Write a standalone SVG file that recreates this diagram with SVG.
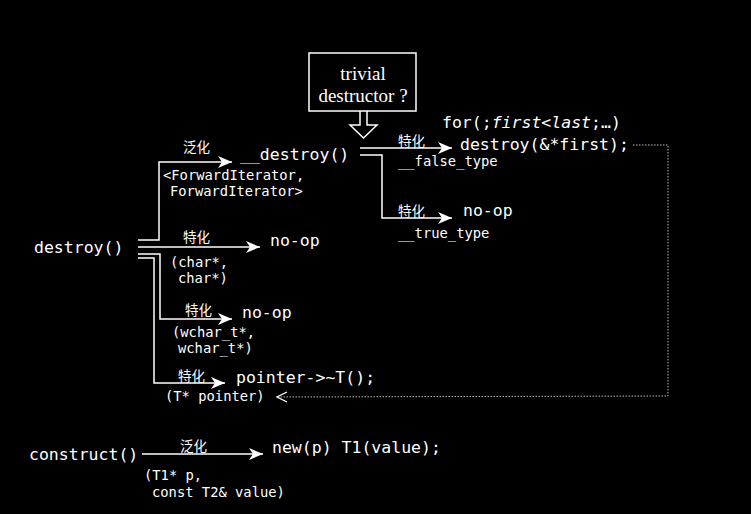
<svg xmlns="http://www.w3.org/2000/svg" width="751" height="514" viewBox="0 0 751 514">
<style>
.m{font-family:"DejaVu Sans Mono","Liberation Mono",monospace;fill:#fff;font-size:16.5px}
.s{font-family:"DejaVu Sans Mono","Liberation Mono",monospace;fill:#fff;font-size:13.8px}
.c{font-family:"Noto Sans CJK SC","Noto Sans",sans-serif;fill:#fff;font-size:13.5px}
.sf{font-family:"Liberation Serif",serif;fill:#fff;font-size:19px}
.ln{fill:none;stroke:#fff;stroke-width:1.5}
.dt{fill:none;stroke:#bbb;stroke-width:1;stroke-dasharray:1.5 1.5}
</style>
<defs>
<marker id="ah" markerUnits="userSpaceOnUse" markerWidth="15" markerHeight="12" refX="14" refY="6" orient="auto">
<path d="M0,0 L14,6 L0,12 L4,6 z" fill="#fff"/>
</marker>
<marker id="oh" markerUnits="userSpaceOnUse" markerWidth="12" markerHeight="12" refX="11" refY="6" orient="auto">
<path d="M1,1 L11,6 L1,11" fill="none" stroke="#fff" stroke-width="1.3"/>
</marker>
</defs>
<rect width="751" height="514" fill="#000"/>
<g id="trivial">
<rect x="309" y="53" width="107" height="58" fill="none" stroke="#fff" stroke-width="1.5"/>
<text class="sf" x="363" y="80" text-anchor="middle">trivial</text>
<text class="sf" x="363" y="102" text-anchor="middle">destructor ?</text>
<path d="M360,111 L360,125 L350,125 L363.5,138 L377,125 L367,125 L367,111" fill="none" stroke="#fff" stroke-width="1.5"/>
</g>
<g id="connectors">
<path class="ln" d="M138,240 L159,240 L159,162 L232,162" marker-end="url(#ah)"/>
<path class="ln" d="M138,247 L260,247" marker-end="url(#ah)"/>
<path class="ln" d="M138,254 L160,254 L160,319 L232,319" marker-end="url(#ah)"/>
<path class="ln" d="M138,258 L154,258 L154,383 L225,383" marker-end="url(#ah)"/>
<path class="ln" d="M360,148 L452,148" marker-end="url(#ah)"/>
<path class="ln" d="M360,155 L382,155 L382,218 L452,218" marker-end="url(#ah)"/>
<path class="dt" d="M633,145 L668,145 L668,396 L277,397" marker-end="url(#oh)"/>
<path class="ln" d="M142,454 L263,454" marker-end="url(#ah)"/>
</g>
<g id="destroy">
<text class="m" x="34" y="253">destroy()</text>
</g>
<g id="generic-destroy">
<text class="c" x="183" y="152">泛化</text>
<text class="m" x="240" y="160">__destroy()</text>
<text class="s" x="163" y="180">&lt;ForwardIterator,</text>
<text class="s" x="170" y="196">ForwardIterator&gt;</text>
</g>
<g id="false-type">
<text class="m" x="442" y="128">for(;<tspan font-style="italic">first&lt;last</tspan>;…)</text>
<text class="c" x="398" y="146">特化</text>
<text class="m" x="460" y="150">destroy(&amp;*first);</text>
<text class="s" x="398" y="166">__false_type</text>
</g>
<g id="true-type">
<text class="c" x="398" y="216">特化</text>
<text class="m" x="463" y="216">no-op</text>
<text class="s" x="398" y="238">__true_type</text>
</g>
<g id="char">
<text class="c" x="183" y="242">特化</text>
<text class="m" x="270" y="246">no-op</text>
<text class="s" x="170" y="267">(char*,</text>
<text class="s" x="178" y="283">char*)</text>
</g>
<g id="wchar">
<text class="c" x="185" y="315">特化</text>
<text class="m" x="242" y="318">no-op</text>
<text class="s" x="172" y="337">(wchar_t*,</text>
<text class="s" x="178" y="353">wchar_t*)</text>
</g>
<g id="pointer">
<text class="c" x="178" y="381">特化</text>
<text class="m" x="236" y="383">pointer-&gt;~T();</text>
<text class="s" x="165" y="401">(T* pointer)</text>
</g>
<g id="construct">
<text class="m" x="29" y="460">construct()</text>
<text class="c" x="180" y="451">泛化</text>
<text class="m" x="272" y="453">new(p) T1(value);</text>
<text class="s" x="144" y="480">(T1* p,</text>
<text class="s" x="152" y="497">const T2&amp; value)</text>
</g>
</svg>
